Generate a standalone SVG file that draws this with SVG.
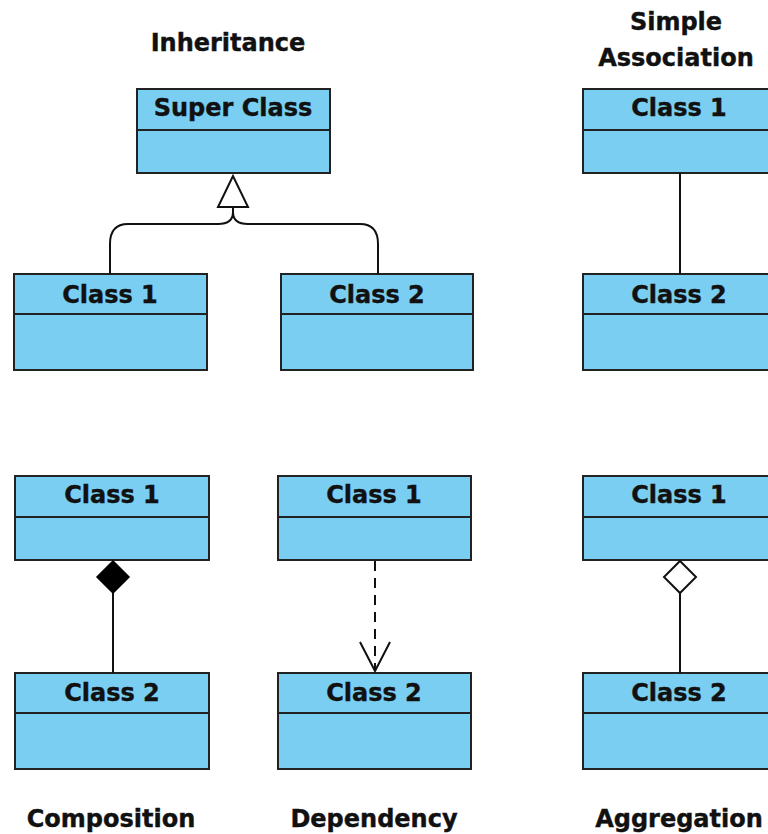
<svg xmlns="http://www.w3.org/2000/svg" width="768" height="834" viewBox="0 0 768 834">
<style>
.box{fill:#79CEF2;stroke:#222;stroke-width:2}
.div{stroke:#222;stroke-width:2}
.t{font-family:"DejaVu Sans","Liberation Sans",sans-serif;font-weight:bold;font-size:24px;fill:#111;stroke:#111;stroke-width:0.4;text-anchor:middle}
.c{fill:none;stroke:#111;stroke-width:2}
</style>
<rect width="768" height="834" fill="#fff"/>
<g id="titles">
<text class="t" x="228" y="51">Inheritance</text>
<text class="t" x="676" y="30">Simple</text>
<text class="t" x="676" y="66">Association</text>
<text class="t" x="111" y="827">Composition</text>
<text class="t" x="374" y="827">Dependency</text>
<text class="t" x="679" y="827">Aggregation</text>
</g>
<g id="inh-super"><rect class="box" x="137" y="89" width="193" height="84"/><line class="div" x1="137" y1="130" x2="330" y2="130"/><text class="t" x="233" y="116">Super Class</text></g>
<g id="inh-class1"><rect class="box" x="14" y="274" width="193" height="96"/><line class="div" x1="14" y1="314" x2="207" y2="314"/><text class="t" x="110" y="303">Class 1</text></g>
<g id="inh-class2"><rect class="box" x="281" y="274" width="192" height="96"/><line class="div" x1="281" y1="314" x2="473" y2="314"/><text class="t" x="377" y="303">Class 2</text></g>
<g id="assoc-class1"><rect class="box" x="583" y="89" width="195" height="84"/><line class="div" x1="583" y1="130" x2="778" y2="130"/><text class="t" x="679" y="116">Class 1</text></g>
<g id="assoc-class2"><rect class="box" x="583" y="274" width="195" height="96"/><line class="div" x1="583" y1="314" x2="778" y2="314"/><text class="t" x="679" y="303">Class 2</text></g>
<g id="comp-class1"><rect class="box" x="15" y="476" width="194" height="84"/><line class="div" x1="15" y1="517" x2="209" y2="517"/><text class="t" x="112" y="503">Class 1</text></g>
<g id="comp-class2"><rect class="box" x="15" y="673" width="194" height="96"/><line class="div" x1="15" y1="713" x2="209" y2="713"/><text class="t" x="112" y="701">Class 2</text></g>
<g id="dep-class1"><rect class="box" x="278" y="476" width="193" height="84"/><line class="div" x1="278" y1="517" x2="471" y2="517"/><text class="t" x="374" y="503">Class 1</text></g>
<g id="dep-class2"><rect class="box" x="278" y="673" width="193" height="96"/><line class="div" x1="278" y1="713" x2="471" y2="713"/><text class="t" x="374" y="701">Class 2</text></g>
<g id="agg-class1"><rect class="box" x="583" y="476" width="195" height="84"/><line class="div" x1="583" y1="517" x2="778" y2="517"/><text class="t" x="679" y="503">Class 1</text></g>
<g id="agg-class2"><rect class="box" x="583" y="673" width="195" height="96"/><line class="div" x1="583" y1="713" x2="778" y2="713"/><text class="t" x="679" y="701">Class 2</text></g>
<g id="connectors">
<path class="c" d="M233,207 L233,212 Q233,224 218,224 L128,224 Q110,224 110,244 L110,274"/>
<path class="c" d="M233,212 Q233,224 248,224 L360,224 Q378,224 378,244 L378,274"/>
<polygon points="233,176 218,207 248,207" fill="#fff" stroke="#111" stroke-width="2"/>
<line class="c" x1="680" y1="173" x2="680" y2="274"/>
<line class="c" x1="113" y1="593" x2="113" y2="673"/>
<polygon points="113,561 129,577 113,593 97,577" fill="#000" stroke="#000" stroke-width="1.5"/>
<line class="c" x1="375" y1="561" x2="375" y2="671" stroke-dasharray="10,7"/>
<polyline class="c" points="360,642 375,671 390,642"/>
<line class="c" x1="680" y1="593" x2="680" y2="673"/>
<polygon points="680,561 696,577 680,593 664,577" fill="#fff" stroke="#111" stroke-width="2"/>
</g>
</svg>
